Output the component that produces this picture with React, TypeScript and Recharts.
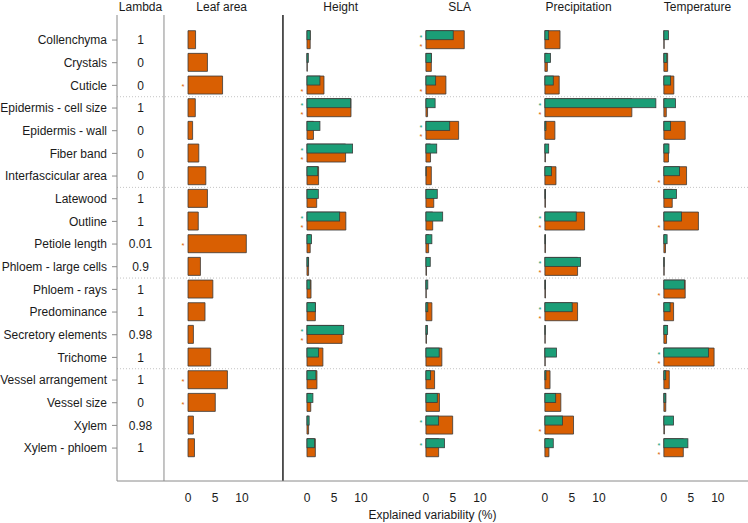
import React from 'react';
import { BarChart, Bar, XAxis, YAxis, ReferenceLine, LabelList } from 'recharts';

// traits (rows) and their phylogenetic signal
const traits = [
  'Collenchyma', 'Crystals', 'Cuticle', 'Epidermis - cell size', 'Epidermis - wall', 'Fiber band',
  'Interfascicular area', 'Latewood', 'Outline', 'Petiole length', 'Phloem - large cells', 'Phloem - rays',
  'Predominance', 'Secretory elements', 'Trichome', 'Vessel arrangement', 'Vessel size', 'Xylem', 'Xylem - phloem',
];
const lambda = ['1', '0', '0', '1', '0', '0', '0', '1', '1', '0.01', '0.9', '1', '1', '0.98', '1', '1', '0', '0.98', '1'];

const headers = ['Lambda', 'Leaf area', 'Height', 'SLA', 'Precipitation', 'Temperature'];

// explained variability (%)
const leafArea = [1.4, 3.6, 6.4, 1.35, 0.85, 2.0, 3.3, 3.6, 1.9, 10.8, 2.3, 4.6, 3.15, 1.0, 4.2, 7.3, 5.05, 1.0, 1.2];
const heightGreen = [0.6, 0.25, 2.4, 8.1, 2.4, 8.45, 2.0, 2.1, 6.05, 0.85, 0.3, 0.6, 1.55, 6.8, 2.15, 1.65, 1.1, 0.4, 1.4];
const heightOrange = [0.6, 0.05, 3.15, 8.15, 1.2, 7.15, 2.15, 1.8, 7.2, 0.6, 0.3, 0.75, 1.55, 6.5, 2.95, 1.85, 0.7, 0.3, 1.55];
const slaGreen = [5.05, 1.0, 1.8, 1.7, 4.4, 2.0, 0.05, 2.1, 3.1, 1.1, 0.8, 0.35, 0.35, 0.3, 2.45, 0.85, 2.1, 2.35, 3.45];
const slaOrange = [7.1, 1.0, 3.7, 0.3, 6.05, 0.85, 1.0, 1.45, 1.25, 0.5, 0.1, 0.05, 1.1, 0.1, 2.95, 1.6, 2.5, 4.95, 2.35];
const precGreen = [0.7, 1.05, 1.55, 20.55, 0.2, 0.7, 1.2, 0.1, 5.8, 0.1, 6.6, 0.1, 5.05, 0.05, 2.15, 0.2, 2.0, 3.25, 1.55];
const precOrange = [2.8, 0.45, 2.65, 16.1, 1.85, 0.1, 2.05, 0.1, 7.35, 0.1, 6.05, 0.1, 6.05, 0.05, 0.05, 0.95, 2.95, 5.3, 0.75];
const tempGreen = [0.85, 0.55, 1.25, 2.15, 1.25, 0.95, 2.9, 2.35, 3.25, 0.6, 0.05, 3.8, 1.15, 0.7, 8.25, 0.35, 0.35, 1.8, 4.45];
const tempOrange = [0.05, 0.7, 1.85, 0.45, 3.95, 0.85, 4.2, 1.55, 6.4, 0.3, 0.05, 3.95, 1.8, 0.5, 9.3, 1.0, 0.35, 0.1, 3.6];

// significant effects (*)
const leafStars = ['Cuticle', 'Petiole length', 'Vessel arrangement', 'Vessel size'];
const heightStarsG = ['Epidermis - cell size', 'Fiber band', 'Outline', 'Secretory elements'];
const heightStarsO = ['Cuticle', 'Epidermis - cell size', 'Fiber band', 'Outline', 'Secretory elements'];
const slaStarsG = ['Collenchyma', 'Epidermis - wall', 'Xylem', 'Xylem - phloem'];
const slaStarsO = ['Collenchyma', 'Cuticle', 'Epidermis - wall'];
const precStarsG = ['Epidermis - cell size', 'Outline', 'Phloem - large cells', 'Predominance'];
const precStarsO = ['Epidermis - cell size', 'Outline', 'Phloem - large cells', 'Predominance', 'Xylem'];
const tempStarsG = ['Trichome', 'Xylem - phloem'];
const tempStarsO = ['Interfascicular area', 'Outline', 'Phloem - rays', 'Trichome', 'Xylem - phloem'];

const panelTicks = [0, 5, 10];

const GREEN = '#1b9e77';
const ORANGE = '#d95f02';
const EDGE = '#3a3a3a';
const TEXT = '#1a1a1a';
const FONT = '"Liberation Sans", Arial, Helvetica, sans-serif';

// one shared x axis, panels laid side by side in % units
const LAMBDA_W = 8.7;
const PANEL_W = 22.03;
const ZERO = 4.45;
const TOTAL = 116.85;
const zeroOf = (k: number) => LAMBDA_W + k * PANEL_W + ZERO;

const panels = [
  { key: 'leaf', orange: leafArea, green: null as number[] | null, starsO: leafStars, starsG: [] as string[] },
  { key: 'height', orange: heightOrange, green: heightGreen, starsO: heightStarsO, starsG: heightStarsG },
  { key: 'sla', orange: slaOrange, green: slaGreen, starsO: slaStarsO, starsG: slaStarsG },
  { key: 'prec', orange: precOrange, green: precGreen, starsO: precStarsO, starsG: precStarsG },
  { key: 'temp', orange: tempOrange, green: tempGreen, starsO: tempStarsO, starsG: tempStarsG },
];

const rows = traits.map((trait, i) => {
  const row: any = { trait };
  panels.forEach((p, k) => {
    const z = zeroOf(k);
    row[p.key + 'O'] = [z, z + p.orange[i]];
    row[p.key + 'OS'] = p.starsO.includes(trait) ? '*' : '';
    if (p.green) {
      row[p.key + 'G'] = [z, z + p.green[i]];
      row[p.key + 'GS'] = p.starsG.includes(trait) ? '*' : '';
    }
  });
  return row;
});

const bottomTicks = panels.flatMap((_, k) => panelTicks.map((t) => zeroOf(k) + t));
const headerTicks = [LAMBDA_W / 2, ...panels.map((_, k) => LAMBDA_W + k * PANEL_W + PANEL_W / 2 - 0.33)];
const rowSeparators = ['Cuticle', 'Interfascicular area', 'Phloem - large cells', 'Trichome'];

const localTick = (v: number) => {
  const k = Math.floor((v - LAMBDA_W) / PANEL_W);
  return String(Math.round(v - zeroOf(k)));
};

const headerTick = (v: number) => {
  let best = 0;
  headerTicks.forEach((t, i) => {
    if (Math.abs(t - v) < Math.abs(headerTicks[best] - v)) best = i;
  });
  return headers[best];
};

const TraitTick = (props: any) => {
  const { x, y, payload } = props;
  const i = traits.indexOf(payload.value);
  return (
    <g>
      <text x={x} y={y} dy="0.35em" textAnchor="end" fontSize={12} fontFamily={FONT} fill={TEXT}>
        {payload.value}
      </text>
      <text x={x + 33.5} y={y} dy="0.35em" textAnchor="middle" fontSize={12} fontFamily={FONT} fill={TEXT}>
        {lambda[i]}
      </text>
    </g>
  );
};

// green bar only fills the upper half of the row
const TopHalf = (props: any) => {
  const { x, y, width, height } = props;
  return <rect x={x} y={y} width={Math.max(width, 0)} height={height / 2} fill={GREEN} stroke={EDGE} strokeWidth={0.8} />;
};

const starLabel = (color: string, part: number) => (props: any) => {
  if (!props.value) return null;
  const box = props.viewBox ?? props;
  return (
    <text x={box.x - 3.5} y={box.y + box.height * part + 4.4} fontSize={7.5} fontFamily={FONT} fill={color} textAnchor="end">
      *
    </text>
  );
};

export default function App() {
  return (
    <div style={{ position: 'absolute', left: 0, top: 0, width: 748, height: 523, background: '#fff', fontFamily: FONT }}>
      <BarChart
        width={748}
        height={523}
        data={rows}
        layout="vertical"
        margin={{ top: 0, right: 0, bottom: 0, left: 0 }}
        barSize={18}
        barGap={-18}
      >
        <XAxis
          xAxisId="top"
          orientation="top"
          type="number"
          domain={[0, TOTAL]}
          allowDataOverflow
          ticks={headerTicks}
          interval={0}
          height={15}
          axisLine={false}
          tickLine={false}
          tickSize={0}
          tickMargin={4}
          tickFormatter={headerTick}
          tick={{ fontSize: 12, fill: TEXT, fontFamily: FONT }}
        />
        <XAxis
          type="number"
          domain={[0, TOTAL]}
          ticks={bottomTicks}
          interval={0}
          height={42}
          tickLine={false}
          tickSize={6}
          tickMargin={6}
          stroke="#8a8a8a"
          tickFormatter={localTick}
          tick={{ fontSize: 12, fill: TEXT, fontFamily: FONT }}
          label={{ value: 'Explained variability (%)', position: 'insideBottom', offset: 4, fontSize: 12, fill: TEXT, fontFamily: FONT }}
        />
        <YAxis
          type="category"
          dataKey="trait"
          width={117}
          interval={0}
          padding={{ top: 13.7, bottom: 21.6 }}
          tickSize={5}
          tickMargin={5}
          stroke="#8a8a8a"
          tick={<TraitTick />}
        />
        {rowSeparators.map((t) => (
          <ReferenceLine key={t} y={t} position="end" stroke="#c4c4c4" strokeDasharray="1 2" />
        ))}
        <ReferenceLine x={LAMBDA_W} stroke="#8a8a8a" />
        <ReferenceLine x={LAMBDA_W + PANEL_W} stroke="#111" strokeWidth={1.4} />
        {panels.flatMap((p) => {
          const bars = [
            <Bar key={p.key + 'O'} dataKey={p.key + 'O'} fill={ORANGE} stroke={EDGE} strokeWidth={0.8} isAnimationActive={false}>
              <LabelList dataKey={p.key + 'OS'} content={starLabel(ORANGE, p.green ? 0.75 : 0.5)} />
            </Bar>,
          ];
          if (p.green) {
            bars.push(
              <Bar key={p.key + 'G'} dataKey={p.key + 'G'} fill={GREEN} shape={<TopHalf />} isAnimationActive={false}>
                <LabelList dataKey={p.key + 'GS'} content={starLabel(GREEN, 0.25)} />
              </Bar>,
            );
          }
          return bars;
        })}
      </BarChart>
    </div>
  );
}
